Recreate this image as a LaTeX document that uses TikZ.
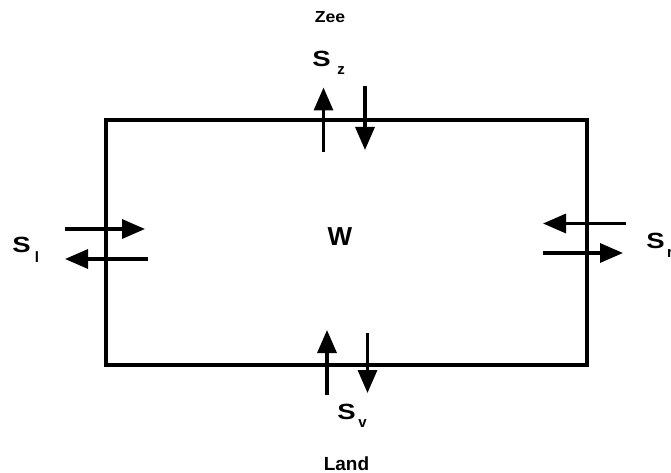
\documentclass[tikz,border=0pt]{standalone}
\usepackage{fontspec}
\setmainfont{Liberation Sans}
\usetikzlibrary{arrows.meta}
\tikzset{
  flux/.style={line width=3.3pt, -{Triangle[width=19pt,length=23pt]}},
  boxline/.style={line width=3.2pt},
  bigS/.style={inner sep=0pt, font=\bfseries\fontsize{22}{23}\selectfont},
  subs/.style={inner sep=0pt, font=\bfseries\fontsize{15}{16}\selectfont},
  lbl/.style={inner sep=0pt, font=\bfseries\fontsize{19}{20}\selectfont},
}
\begin{document}
\begin{tikzpicture}[x=1pt,y=-1pt]
\useasboundingbox (0,0) rectangle (671,473);
\clip (0,0) rectangle (671,473);
% box
\node[boxline, draw, minimum width=481pt, minimum height=245pt, inner sep=0pt] (box) at (346.5,242.5) {};
% labels
\node[inner sep=0pt, font=\bfseries\fontsize{16}{17}\selectfont] (zee) at (330,17) {\scalebox{1.1}[1]{Zee}};
\node[lbl] (land) at (346.5,463.5) {Land};
\node[inner sep=0pt, font=\bfseries\fontsize{26}{27}\selectfont] (w) at (340,236.5) {W};
\node[bigS] (sz) at (321.5,59) {\scalebox{1.25}[1]{S}};
\node[subs] (szs) at (341,70.5) {z};
\node[bigS] (sl) at (21.5,245) {\scalebox{1.25}[1]{S}};
\node[subs] (sls) at (37,257.5) {l};
\node[bigS] (sr) at (655.5,240.5) {\scalebox{1.25}[1]{S}};
\node[subs] (srs) at (670,253) {r};
\node[bigS] (sv) at (346.5,411.5) {\scalebox{1.25}[1]{S}};
\node[subs] (svs) at (362.5,423.5) {v};
% arrow end points
\coordinate (zu0) at (323.5,152);
\coordinate (zu1) at (323.5,87.5);
\coordinate (zd0) at (365,86.5);
\coordinate (zd1) at (365,150);
\coordinate (lr0) at (65,229);
\coordinate (lr1) at (145,229);
\coordinate (ll0) at (148,259);
\coordinate (ll1) at (65,259);
\coordinate (rl0) at (626,223.5);
\coordinate (rl1) at (543,223.5);
\coordinate (rr0) at (543,253);
\coordinate (rr1) at (623,253);
\coordinate (vu0) at (327,395);
\coordinate (vu1) at (327,330);
\coordinate (vd0) at (367.5,333);
\coordinate (vd1) at (367.5,393);
% arrows
\draw[flux] (zu0) -- (zu1);
\draw[flux] (zd0) -- (zd1);
\draw[flux] (lr0) -- (lr1);
\draw[flux] (ll0) -- (ll1);
\draw[flux] (rl0) -- (rl1);
\draw[flux] (rr0) -- (rr1);
\draw[flux] (vu0) -- (vu1);
\draw[flux] (vd0) -- (vd1);
\end{tikzpicture}
\end{document}
